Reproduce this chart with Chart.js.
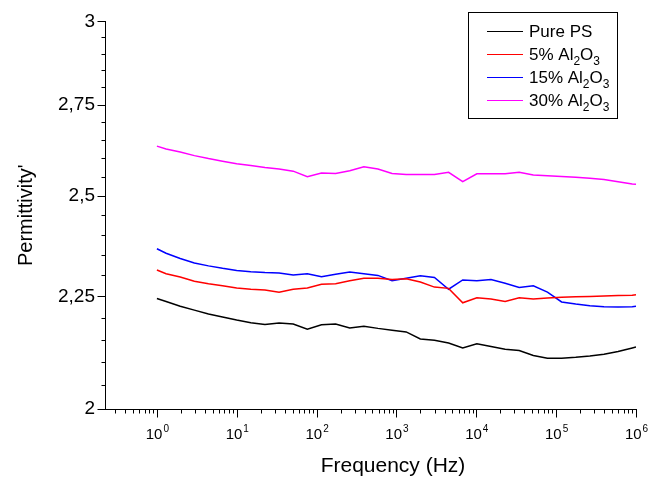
<!DOCTYPE html>
<html><head><meta charset="utf-8">
<script src="https://cdn.jsdelivr.net/npm/chart.js@4.4.0/dist/chart.umd.min.js"></script>
<style>html,body{margin:0;padding:0;background:#fff;}#wrap{width:648px;height:481px;position:relative;}</style>
</head><body><div id="wrap"><canvas id="c" width="648" height="481"></canvas></div>
<script>
// ---- data ----
const frequencies = [1, 1.303, 1.959, 2.944, 4.426, 6.637, 9.977, 15.0, 22.54, 33.88, 50.93, 76.56, 115.1, 173.0, 260.0, 390.8, 586.1, 881.0, 1324, 1991, 2992, 4498, 6761, 10162, 15276, 22961, 34435, 51761, 77804, 116950, 175792, 264241, 397194, 597035, 897428, 1000000];
const purePS = [2.245, 2.238, 2.227, 2.218, 2.209, 2.202, 2.195, 2.189, 2.185, 2.188, 2.186, 2.174, 2.184, 2.186, 2.177, 2.181, 2.176, 2.172, 2.168, 2.152, 2.149, 2.143, 2.132, 2.141, 2.135, 2.129, 2.126, 2.115, 2.109, 2.109, 2.111, 2.114, 2.118, 2.124, 2.132, 2.134];
const al2o3_5 = [2.313, 2.304, 2.296, 2.286, 2.280, 2.275, 2.270, 2.267, 2.265, 2.260, 2.267, 2.270, 2.279, 2.280, 2.287, 2.293, 2.293, 2.290, 2.292, 2.284, 2.272, 2.269, 2.235, 2.247, 2.244, 2.238, 2.247, 2.244, 2.246, 2.248, 2.249, 2.250, 2.251, 2.252, 2.253, 2.254];
const al2o3_15 = [2.365, 2.354, 2.341, 2.330, 2.323, 2.317, 2.312, 2.309, 2.307, 2.306, 2.301, 2.304, 2.297, 2.303, 2.308, 2.304, 2.300, 2.287, 2.293, 2.299, 2.295, 2.267, 2.289, 2.287, 2.290, 2.281, 2.271, 2.275, 2.260, 2.237, 2.232, 2.228, 2.226, 2.225, 2.226, 2.227];
const al2o3_30 = [2.633, 2.625, 2.617, 2.607, 2.599, 2.592, 2.585, 2.580, 2.575, 2.571, 2.565, 2.550, 2.560, 2.559, 2.566, 2.577, 2.571, 2.559, 2.556, 2.556, 2.556, 2.562, 2.537, 2.558, 2.558, 2.558, 2.562, 2.555, 2.553, 2.551, 2.549, 2.546, 2.543, 2.537, 2.531, 2.530];

// legend labels: [text, isSubscript] pieces
const seriesLabels = [
  [['Pure PS', false]],
  [['5% Al', false], ['2', true], ['O', false], ['3', true]],
  [['15% Al', false], ['2', true], ['O', false], ['3', true]],
  [['30% Al', false], ['2', true], ['O', false], ['3', true]]
];
const seriesColors = ['#000000', '#ff0000', '#0000ff', '#ff00ff'];

const yMajorTicks = [2, 2.25, 2.5, 2.75, 3];
const yTickLabels = ['2', '2,25', '2,5', '2,75', '3'];
const yMinorTicks = [2.05, 2.1, 2.15, 2.2, 2.3, 2.35, 2.4, 2.45, 2.55, 2.6, 2.65, 2.7, 2.8, 2.85, 2.9, 2.95];
const xMajorTicks = [1, 10, 100, 1000, 10000, 100000, 1000000];
const xTickBase = '10';
const xTickExponents = ['0', '1', '2', '3', '4', '5', '6'];
const xTitle = 'Frequency (Hz)';
const yTitle = "Permittivity'";

const FONT = '"Liberation Sans", Arial, Helvetica, sans-serif';

const seriesValues = [purePS, al2o3_5, al2o3_15, al2o3_30];
const datasets = seriesValues.map((vals, i) => ({
  label: seriesLabels[i].map(s => s[0]).join(''),
  data: frequencies.map((f, k) => ({x: f, y: vals[k]})),
  borderColor: seriesColors[i],
  backgroundColor: seriesColors[i],
  borderWidth: 1.5,
  pointRadius: 0,
  tension: 0,
  fill: false
}));

const decorPlugin = {
  id: 'decor',
  afterDraw(chart) {
    const ctx = chart.ctx;
    const xs = chart.scales.x, ys = chart.scales.y;
    const ca = chart.chartArea;
    ctx.save();
    ctx.strokeStyle = '#000';
    ctx.fillStyle = '#000';
    ctx.lineWidth = 1;
    // y ticks
    const left = Math.round(ca.left) + 0.5;
    yMinorTicks.forEach(v => {
      const py = Math.round(ys.getPixelForValue(v)) + 0.5;
      ctx.beginPath(); ctx.moveTo(left - 4, py); ctx.lineTo(left, py); ctx.stroke();
    });
    yMajorTicks.forEach(v => {
      const py = Math.round(ys.getPixelForValue(v)) + 0.5;
      ctx.beginPath(); ctx.moveTo(left - 8, py); ctx.lineTo(left, py); ctx.stroke();
    });
    // x ticks
    const bottom = Math.round(ca.bottom) + 0.5;
    for (let d = -1; d <= 5; d++) {
      for (let m = 2; m <= 9; m++) {
        const v = m * Math.pow(10, d);
        if (v < xs.min || v > xs.max) continue;
        const px = Math.round(xs.getPixelForValue(v)) + 0.5;
        ctx.beginPath(); ctx.moveTo(px, bottom); ctx.lineTo(px, bottom + 4); ctx.stroke();
      }
    }
    xMajorTicks.forEach(v => {
      const px = Math.round(xs.getPixelForValue(v)) + 0.5;
      ctx.beginPath(); ctx.moveTo(px, bottom); ctx.lineTo(px, bottom + 8); ctx.stroke();
    });
    // x tick labels with superscripts
    ctx.textBaseline = 'alphabetic';
    ctx.textAlign = 'left';
    xMajorTicks.forEach((v, i) => {
      const px = xs.getPixelForValue(v);
      ctx.font = '15px ' + FONT;
      const wb = ctx.measureText(xTickBase).width;
      ctx.font = '10px ' + FONT;
      const we = ctx.measureText(xTickExponents[i]).width;
      const x0 = px - (wb + we) / 2;
      ctx.font = '15px ' + FONT;
      ctx.fillText(xTickBase, x0, 439);
      ctx.font = '10px ' + FONT;
      ctx.fillText(xTickExponents[i], x0 + wb + 1, 432);
    });
    // x title
    ctx.font = '21px ' + FONT;
    ctx.textAlign = 'center';
    ctx.textBaseline = 'middle';
    ctx.fillText(xTitle, 393, 466);
    // legend
    ctx.lineWidth = 1;
    ctx.strokeStyle = '#000';
    ctx.strokeRect(468.5, 12.5, 149, 106);
    const rowY = [31, 54, 77, 100];
    seriesLabels.forEach((segs, i) => {
      const y = rowY[i] + 0.5;
      ctx.strokeStyle = seriesColors[i];
      ctx.lineWidth = 1;
      ctx.beginPath(); ctx.moveTo(487, y); ctx.lineTo(523, y); ctx.stroke();
      let x = 529;
      ctx.textAlign = 'left';
      ctx.textBaseline = 'alphabetic';
      ctx.fillStyle = '#000';
      segs.forEach(([t, sub]) => {
        ctx.font = (sub ? '12px ' : '17px ') + FONT;
        ctx.fillText(t, x, rowY[i] + (sub ? 11 : 6));
        x += ctx.measureText(t).width;
      });
    });
    ctx.restore();
  }
};

new Chart(document.getElementById('c'), {
  type: 'line',
  data: {datasets},
  plugins: [decorPlugin],
  options: {
    responsive: false,
    animation: false,
    devicePixelRatio: 1,
    layout: {padding: {left: 0, right: 12, top: 20, bottom: 0}},
    plugins: {legend: {display: false}, tooltip: {enabled: false}},
    scales: {
      x: {
        type: 'logarithmic',
        min: Math.pow(10, -0.65),
        max: 1e6,
        bounds: 'data',
        grid: {display: false, drawTicks: false},
        border: {display: true, color: '#000', width: 1},
        ticks: {display: false},
        afterFit(scale) { scale.height = 72; }
      },
      y: {
        type: 'logarithmic',
        min: 2,
        max: 3,
        bounds: 'data',
        grid: {display: false, drawTicks: false},
        border: {display: true, color: '#000', width: 1},
        afterBuildTicks(scale) { scale.ticks = yMajorTicks.map(v => ({value: v, major: true})); },
        ticks: {
          autoSkip: false,
          padding: 10,
          color: '#000',
          font: {family: FONT, size: 19},
          callback(value) {
            const i = yMajorTicks.findIndex(t => Math.abs(t - value) < 1e-6);
            return i >= 0 ? yTickLabels[i] : '';
          }
        },
        title: {display: true, text: yTitle, color: '#000', font: {family: FONT, size: 20}, padding: {top: 14, bottom: 0}},
        afterFit(scale) { scale.width = 105; }
      }
    }
  }
});
</script>
</body></html>
